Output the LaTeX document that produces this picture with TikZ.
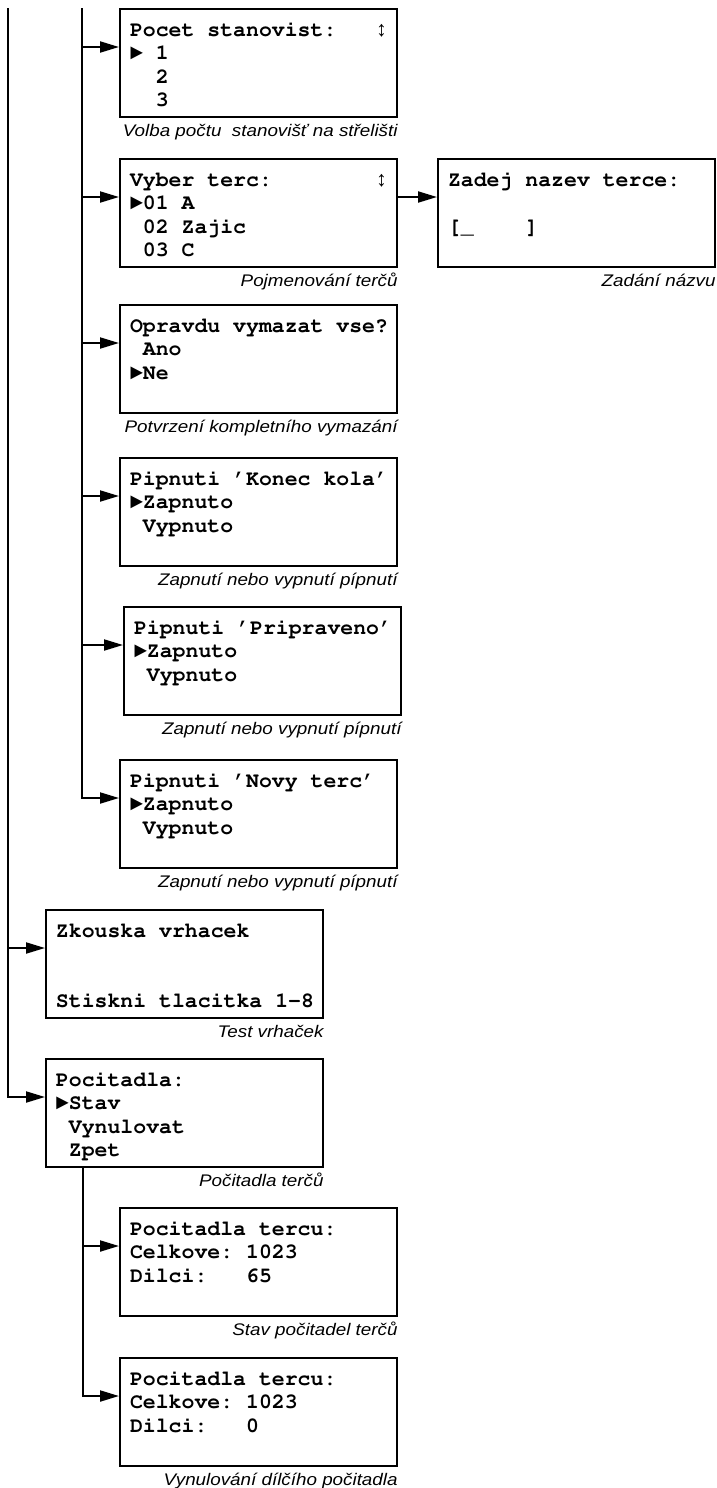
\documentclass[tikz,border=0pt]{standalone}
\usepackage[T1]{fontenc}
\usepackage{fontspec}
\newfontfamily\capfont[FakeStretch=1.12]{Liberation Sans}
\newfontfamily\symfont{Liberation Mono}
\usetikzlibrary{arrows.meta}

% courier for the display, text of one screen top aligned
\newcommand{\lcdfont}{\fontencoding{T1}\fontfamily{pcr}\fontseries{b}\selectfont}
\newcommand{\lcd}[1]{\parbox[c][54pt][t]{138.5pt}{\frenchspacing\leftskip=5pt\baselineskip=11.8pt\rule{0pt}{13.5pt}#1}}
\newcommand{\updown}{{\symfont ↕}}
\newcommand{\pointer}{{\symfont\bfseries ►}}
\newcommand{\q}{\textquoteright}

\begin{document}
\begin{tikzpicture}[x=0.5pt,y=-0.5pt,>={Triangle[length=9.5pt,width=5.5pt]},
  screen/.style={draw,line width=1pt,anchor=north west,inner sep=0pt,font=\fontsize{10.75pt}{11.8pt}\lcdfont},
  caption/.style={anchor=base east,inner sep=0pt,font=\fontsize{8.4pt}{10pt}\selectfont\capfont\itshape},
  flow/.style={->,line width=1pt}]
  \useasboundingbox (0,0) rectangle (717,1488);
  \node[screen] (pocet) at (119,8) {\lcd{Pocet stanovist:~~~\updown\\\pointer{} 1\\\hspace*{1.2em}2\\\hspace*{1.2em}3}};
  \node[screen] (terc) at (119,158) {\lcd{Vyber terc:~~~~~~~~\updown\\\pointer01 A\\\hspace*{0.6em}02 Zajic\\\hspace*{0.6em}03 C}};
  \node[screen] (nazev) at (437,158) {\lcd{Zadej nazev terce:\\\mbox{}\\{[}\_~~~~]}};
  \node[screen] (vymazat) at (119,304) {\lcd{Opravdu vymazat vse?\\\hspace*{0.6em}Ano\\\pointer Ne}};
  \node[screen] (konec) at (119,457) {\lcd{Pipnuti \q Konec kola\q\\\pointer Zapnuto\\\hspace*{0.6em}Vypnuto}};
  \node[screen] (pripraveno) at (123,606) {\lcd{Pipnuti \q Pripraveno\q\\\pointer Zapnuto\\\hspace*{0.6em}Vypnuto}};
  \node[screen] (novy) at (119,759) {\lcd{Pipnuti \q Novy terc\q\\\pointer Zapnuto\\\hspace*{0.6em}Vypnuto}};
  \node[screen] (zkouska) at (45,909) {\lcd{Zkouska vrhacek\\\mbox{}\\\mbox{}\\Stiskni tlacitka 1-8}};
  \node[screen] (pocitadla) at (45,1058) {\lcd{Pocitadla:\\\pointer Stav\\\hspace*{0.6em}Vynulovat\\\hspace*{0.6em}Zpet}};
  \node[screen] (stav) at (119,1207) {\lcd{Pocitadla tercu:\\Celkove: 1023\\Dilci:~~~65}};
  \node[screen] (nuluj) at (119,1357) {\lcd{Pocitadla tercu:\\Celkove: 1023\\Dilci:~~~0}};
  % captions under the screens
  \node[caption] (pocet-cap) at ([yshift=-9pt]pocet.south east) {Volba počtu~ stanovišť na střelišti};
  \node[caption] (terc-cap) at ([yshift=-9pt]terc.south east) {Pojmenování terčů};
  \node[caption] (nazev-cap) at ([yshift=-9pt]nazev.south east) {Zadání názvu};
  \node[caption] (vymazat-cap) at ([yshift=-9pt]vymazat.south east) {Potvrzení kompletního vymazání};
  \node[caption] (konec-cap) at ([yshift=-9pt]konec.south east) {Zapnutí nebo vypnutí pípnutí};
  \node[caption] (pripraveno-cap) at ([yshift=-9pt]pripraveno.south east) {Zapnutí nebo vypnutí pípnutí};
  \node[caption] (novy-cap) at ([yshift=-9pt]novy.south east) {Zapnutí nebo vypnutí pípnutí};
  \node[caption] (zkouska-cap) at ([yshift=-9pt]zkouska.south east) {Test vrhaček};
  \node[caption] (pocitadla-cap) at ([yshift=-9pt]pocitadla.south east) {Počitadla terčů};
  \node[caption] (stav-cap) at ([yshift=-9pt]stav.south east) {Stav počitadel terčů};
  \node[caption] (nuluj-cap) at ([yshift=-9pt]nuluj.south east) {Vynulování dílčího počitadla};
  % menu trunks
  \coordinate (trunkA) at (8,8);
  \coordinate (trunkB) at (82,8);
  \coordinate (trunkC) at ([xshift=19pt]pocitadla.south west);
  \draw[flow] (trunkB) |- ([yshift=8pt]pocet.west);
  \draw[flow] (trunkB) |- ([yshift=8pt]terc.west);
  \draw[flow] (trunkB) |- ([yshift=8pt]vymazat.west);
  \draw[flow] (trunkB) |- ([yshift=8pt]konec.west);
  \draw[flow] (trunkB) |- ([yshift=8pt]pripraveno.west);
  \draw[flow] (trunkB) |- ([yshift=8pt]novy.west);
  \draw[flow] ([yshift=8pt]terc.east) -- ([yshift=8pt]nazev.west);
  \draw[flow] (trunkA) |- ([yshift=8pt]zkouska.west);
  \draw[flow] (trunkA) |- ([yshift=8pt]pocitadla.west);
  \draw[flow] (trunkC) |- ([yshift=8pt]stav.west);
  \draw[flow] (trunkC) |- ([yshift=8pt]nuluj.west);
\end{tikzpicture}
\end{document}
